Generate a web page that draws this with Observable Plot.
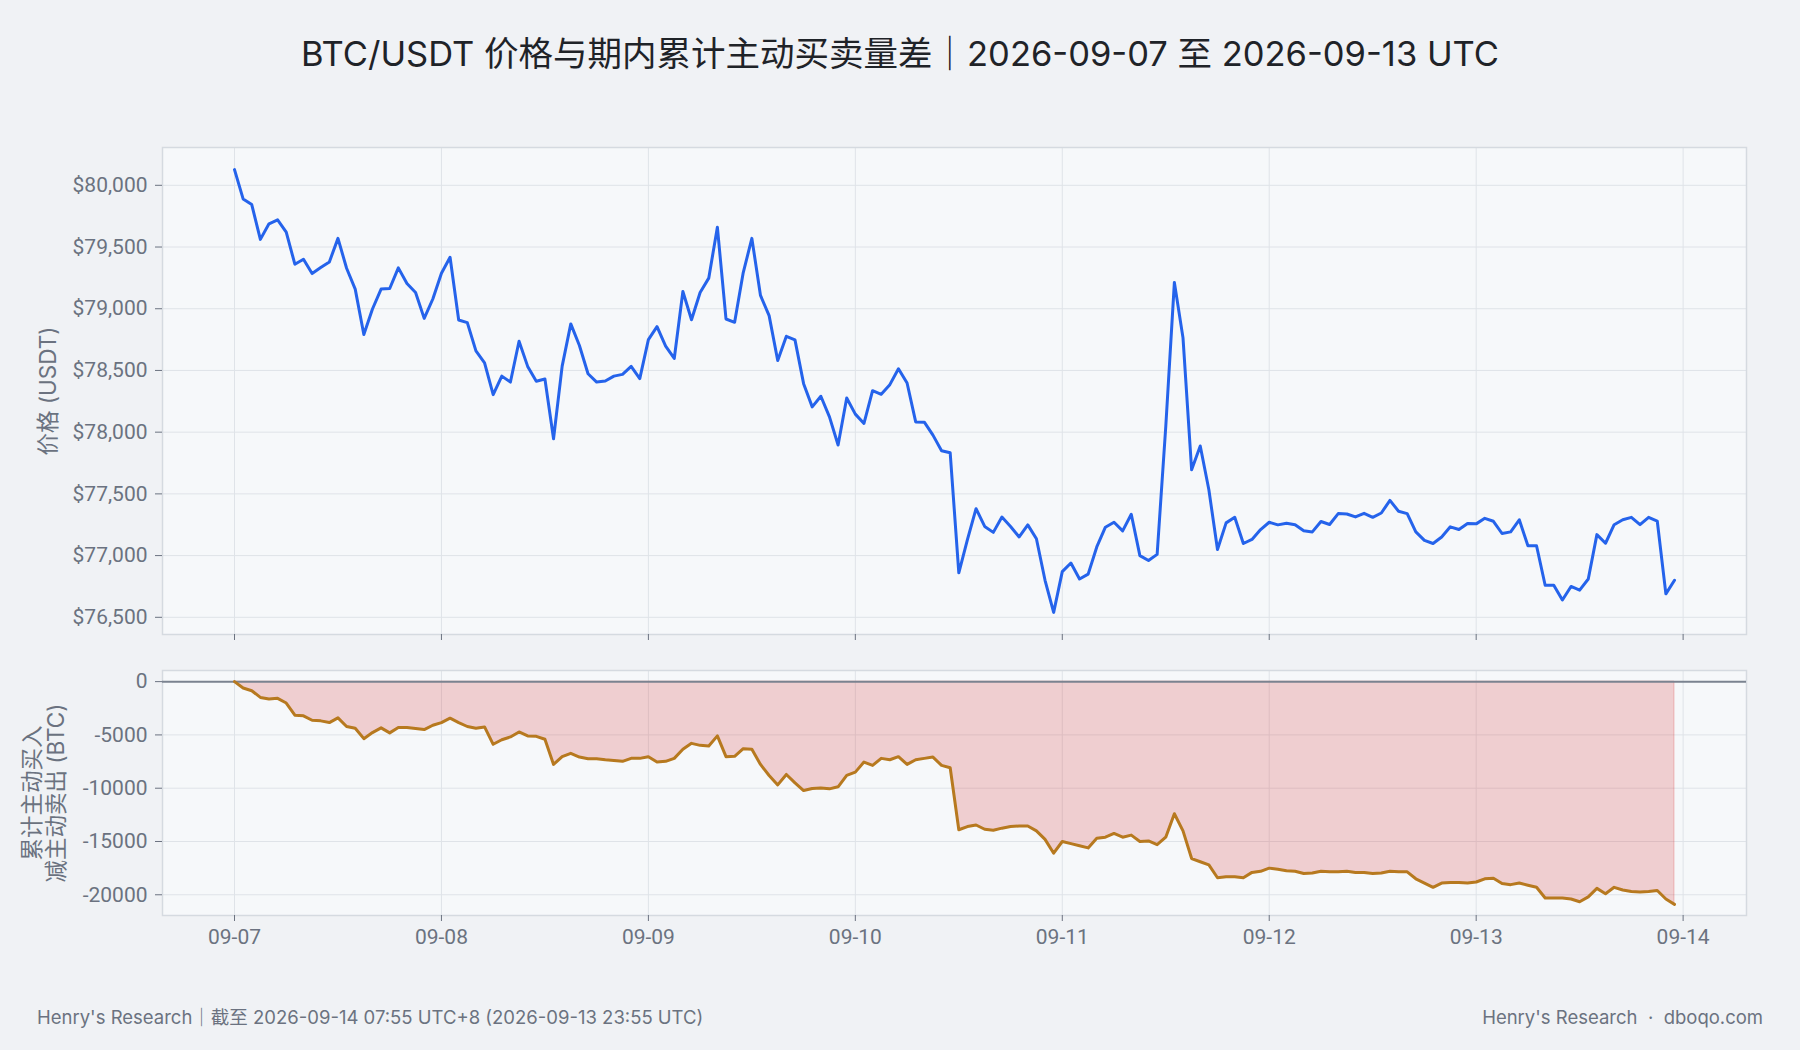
<!DOCTYPE html>
<html>
<head>
<meta charset="utf-8">
<script src="https://cdn.jsdelivr.net/npm/d3@7"></script>
<script src="https://cdn.jsdelivr.net/npm/@observablehq/plot@0.6"></script>
<style>
  html, body { margin: 0; padding: 0; background: #f0f2f5; }
  #wrap { position: relative; width: 1800px; height: 1050px; background: #f0f2f5; overflow: hidden;
          font-family: Inter, "Noto Sans CJK SC", sans-serif; }
  #title { position: absolute; left: 0; top: 34px; width: 1800px; text-align: center;
           font-size: 34.5px; line-height: 40px; color: #1f2328; }
  .foot { position: absolute; top: 1006px; font-size: 18.5px; line-height: 22px; color: #6b7280; }
  #footL { left: 37px; }
  #footR { right: 37px; text-align: right; }
  #topChart { position: absolute; left: 0; top: 137px; }
  #botChart { position: absolute; left: 0; top: 660px; }
</style>
</head>
<body>
<div id="wrap">
  <div id="title">BTC/USDT 价格与期内累计主动买卖量差｜2026-09-07 至 2026-09-13 UTC</div>
  <div id="topChart"></div>
  <div id="botChart"></div>
  <div class="foot" id="footL">Henry's Research｜截至 2026-09-14 07:55 UTC+8 (2026-09-13 23:55 UTC)</div>
  <div class="foot" id="footR">Henry's Research&nbsp; ·&nbsp; dboqo.com</div>
</div>
<script>
// ---- data (hourly, starting 2026-09-07 00:00 UTC) ----
const startUTC = "2026-09-07T00:00:00Z";

const priceUSDT = [
  80127, 79890, 79844, 79562, 79688, 79720, 79621, 79361, 79401, 79285, 79334, 79379,
  79570, 79328, 79159, 78791, 78998, 79159, 79164, 79331, 79204, 79132, 78922, 79079,
  79288, 79417, 78909, 78887, 78659, 78562, 78304, 78454, 78406, 78737, 78533, 78412,
  78431, 77947, 78535, 78877, 78702, 78473, 78406, 78414, 78454, 78468, 78533, 78434,
  78750, 78855, 78697, 78597, 79140, 78911, 79132, 79248, 79661, 78917, 78890, 79293,
  79570, 79108, 78944, 78581, 78777, 78748, 78393, 78205, 78291, 78124, 77896, 78277,
  78146, 78071, 78336, 78307, 78385, 78514, 78398, 78083, 78081, 77976, 77850, 77833,
  76860, 77130, 77380, 77236, 77188, 77312, 77236, 77151, 77249, 77136, 76800, 76540,
  76870, 76940, 76810, 76850, 77070, 77230, 77270, 77200, 77335, 77000, 76960, 77010,
  78044, 79213, 78764, 77695, 77888, 77533, 77050, 77265, 77310, 77098, 77131, 77211,
  77270, 77249, 77262, 77250, 77201, 77192, 77276, 77252, 77340, 77337, 77313, 77342,
  77310, 77345, 77447, 77359, 77340, 77192, 77123, 77098, 77151, 77233, 77211, 77260,
  77257, 77302, 77278, 77179, 77192, 77290, 77080, 77080, 76760, 76760, 76640, 76750,
  76720, 76810, 77170, 77100, 77250, 77290, 77310, 77250, 77310, 77280, 76690, 76800
];

const cumDeltaBTC = [
  0, -600, -850, -1480, -1630, -1570, -2010, -3150, -3210, -3620, -3680, -3840,
  -3400, -4210, -4370, -5350, -4780, -4340, -4810, -4310, -4310, -4400, -4500, -4090,
  -3840, -3430, -3840, -4210, -4370, -4250, -5880, -5450, -5190, -4720, -5090, -5130,
  -5410, -7770, -7040, -6730, -7080, -7230, -7230, -7330, -7390, -7480, -7200, -7200,
  -7040, -7550, -7480, -7200, -6350, -5790, -5980, -6040, -5090, -7040, -7010, -6290,
  -6350, -7770, -8810, -9690, -8710, -9500, -10220, -10030, -9970, -10060, -9870, -8790,
  -8490, -7550, -7860, -7200, -7330, -7040, -7770, -7330, -7200, -7080, -7860, -8080,
  -13900, -13600, -13450, -13850, -13950, -13750, -13600, -13550, -13550, -14000, -14800, -16100,
  -15000, -15200, -15400, -15600, -14700, -14600, -14250, -14600, -14400, -15000, -14950, -15300,
  -14600, -12400, -14000, -16600, -16900, -17200, -18400, -18300, -18300, -18400, -17900, -17800,
  -17500, -17600, -17750, -17800, -18000, -17950, -17800, -17850, -17850, -17800, -17900, -17900,
  -18000, -17950, -17800, -17850, -17850, -18500, -18900, -19300, -18900, -18850, -18850, -18900,
  -18800, -18500, -18450, -18950, -19050, -18900, -19100, -19300, -20300, -20300, -20300, -20400,
  -20650, -20200, -19400, -19900, -19300, -19550, -19700, -19750, -19700, -19600, -20400, -20900
];

const priceTicks = [76500, 77000, 77500, 78000, 78500, 79000, 79500, 80000];
const deltaTicks = [0, -5000, -10000, -15000, -20000];
const dayTicks = ["2026-09-07", "2026-09-08", "2026-09-09", "2026-09-10", "2026-09-11", "2026-09-12", "2026-09-13", "2026-09-14"];

// ---- build table ----
const H = 3600e3;
const t0 = new Date(startUTC).getTime();
const rows = priceUSDT.map((p, i) => ({ t: new Date(t0 + i * H), price: p, delta: cumDeltaBTC[i] }));
const dayDates = dayTicks.map(d => new Date(d + "T00:00:00Z"));

// 5% padding like the reference
const tMin = rows[0].t.getTime(), tMax = rows[rows.length - 1].t.getTime();
const tPad = (tMax - tMin) * 0.05;
const xDomain = [new Date(tMin - tPad), new Date(tMax + tPad)];
const pMin = d3.min(priceUSDT), pMax = d3.max(priceUSDT), pPad = (pMax - pMin) * 0.05;
const dMin = Math.min(0, d3.min(cumDeltaBTC)), dMax = Math.max(0, d3.max(cumDeltaBTC)), dPad = (dMax - dMin) * 0.05;

const FONT = 'Inter, "Noto Sans CJK SC", sans-serif';
const TICKFONT = 'Roboto, "Noto Sans CJK SC", sans-serif';
const GRID = "#dfe3e8";
const FRAME = "#d5dae0";
const TXT = "#6b7280";

const common = {
  width: 1800,
  marginLeft: 162,
  marginRight: 54,
  style: { background: "transparent", fontFamily: FONT, fontSize: "21px", color: TXT, overflow: "visible" },
  x: { type: "utc", domain: xDomain }
};

const topChart = Plot.plot({
  ...common,
  height: 517,
  marginTop: 10,
  marginBottom: 20,
  y: { domain: [pMin - pPad, pMax + pPad] },
  marks: [
    Plot.frame({ fill: "#f6f8fa", stroke: null }),
    Plot.gridX(dayDates, { stroke: GRID, strokeOpacity: 1 }),
    Plot.gridY(priceTicks, { stroke: GRID, strokeOpacity: 1 }),
    Plot.frame({ stroke: FRAME, strokeWidth: 1.5 }),
    Plot.axisY(priceTicks, { tickSize: 7, tickPadding: 8, tickFormat: d => "$" + d3.format(",")(d), label: null, fontSize: 21, fontFamily: TICKFONT }),
    Plot.axisX(dayDates, { tickSize: 6, tickFormat: () => "", label: null }),
    Plot.lineY(rows, { x: "t", y: "price", stroke: "#2563eb", strokeWidth: 3 }),
    Plot.text(["价格 (USDT)"], { text: d => d, frameAnchor: "left", textAnchor: "middle", dx: -114, rotate: -90, fontSize: 22.5, fill: TXT })
  ]
});
document.getElementById("topChart").appendChild(topChart);

const botChart = Plot.plot({
  ...common,
  height: 305,
  marginTop: 10,
  marginBottom: 50,
  y: { domain: [dMin - dPad, dMax + dPad] },
  marks: [
    Plot.frame({ fill: "#f6f8fa", stroke: null }),
    Plot.gridX(dayDates, { stroke: GRID, strokeOpacity: 1 }),
    Plot.gridY(deltaTicks, { stroke: GRID, strokeOpacity: 1 }),
    Plot.frame({ stroke: FRAME, strokeWidth: 1.5 }),
    Plot.areaY(rows, { x: "t", y1: 0, y2: "delta", fill: "#d62728", fillOpacity: 0.2, stroke: "#d62728", strokeOpacity: 0.25, strokeWidth: 1 }),
    Plot.ruleY([0], { stroke: "#7b8390", strokeWidth: 2 }),
    Plot.lineY(rows, { x: "t", y: "delta", stroke: "#b7791f", strokeWidth: 3 }),
    Plot.axisY(deltaTicks, { tickSize: 7, tickPadding: 8, tickFormat: d => String(d), label: null, fontSize: 21, fontFamily: TICKFONT }),
    Plot.axisX(dayDates, { tickSize: 6, tickPadding: 8, tickFormat: d3.utcFormat("%m-%d"), label: null, fontSize: 21, fontFamily: TICKFONT }),
    Plot.text(["累计主动买入\n减主动卖出 (BTC)"], { text: d => d, frameAnchor: "left", textAnchor: "middle", dx: -118, rotate: -90, fontSize: 22.5, lineHeight: 1.05, lineAnchor: "middle", fill: TXT })
  ]
});
document.getElementById("botChart").appendChild(botChart);
</script>
</body>
</html>
